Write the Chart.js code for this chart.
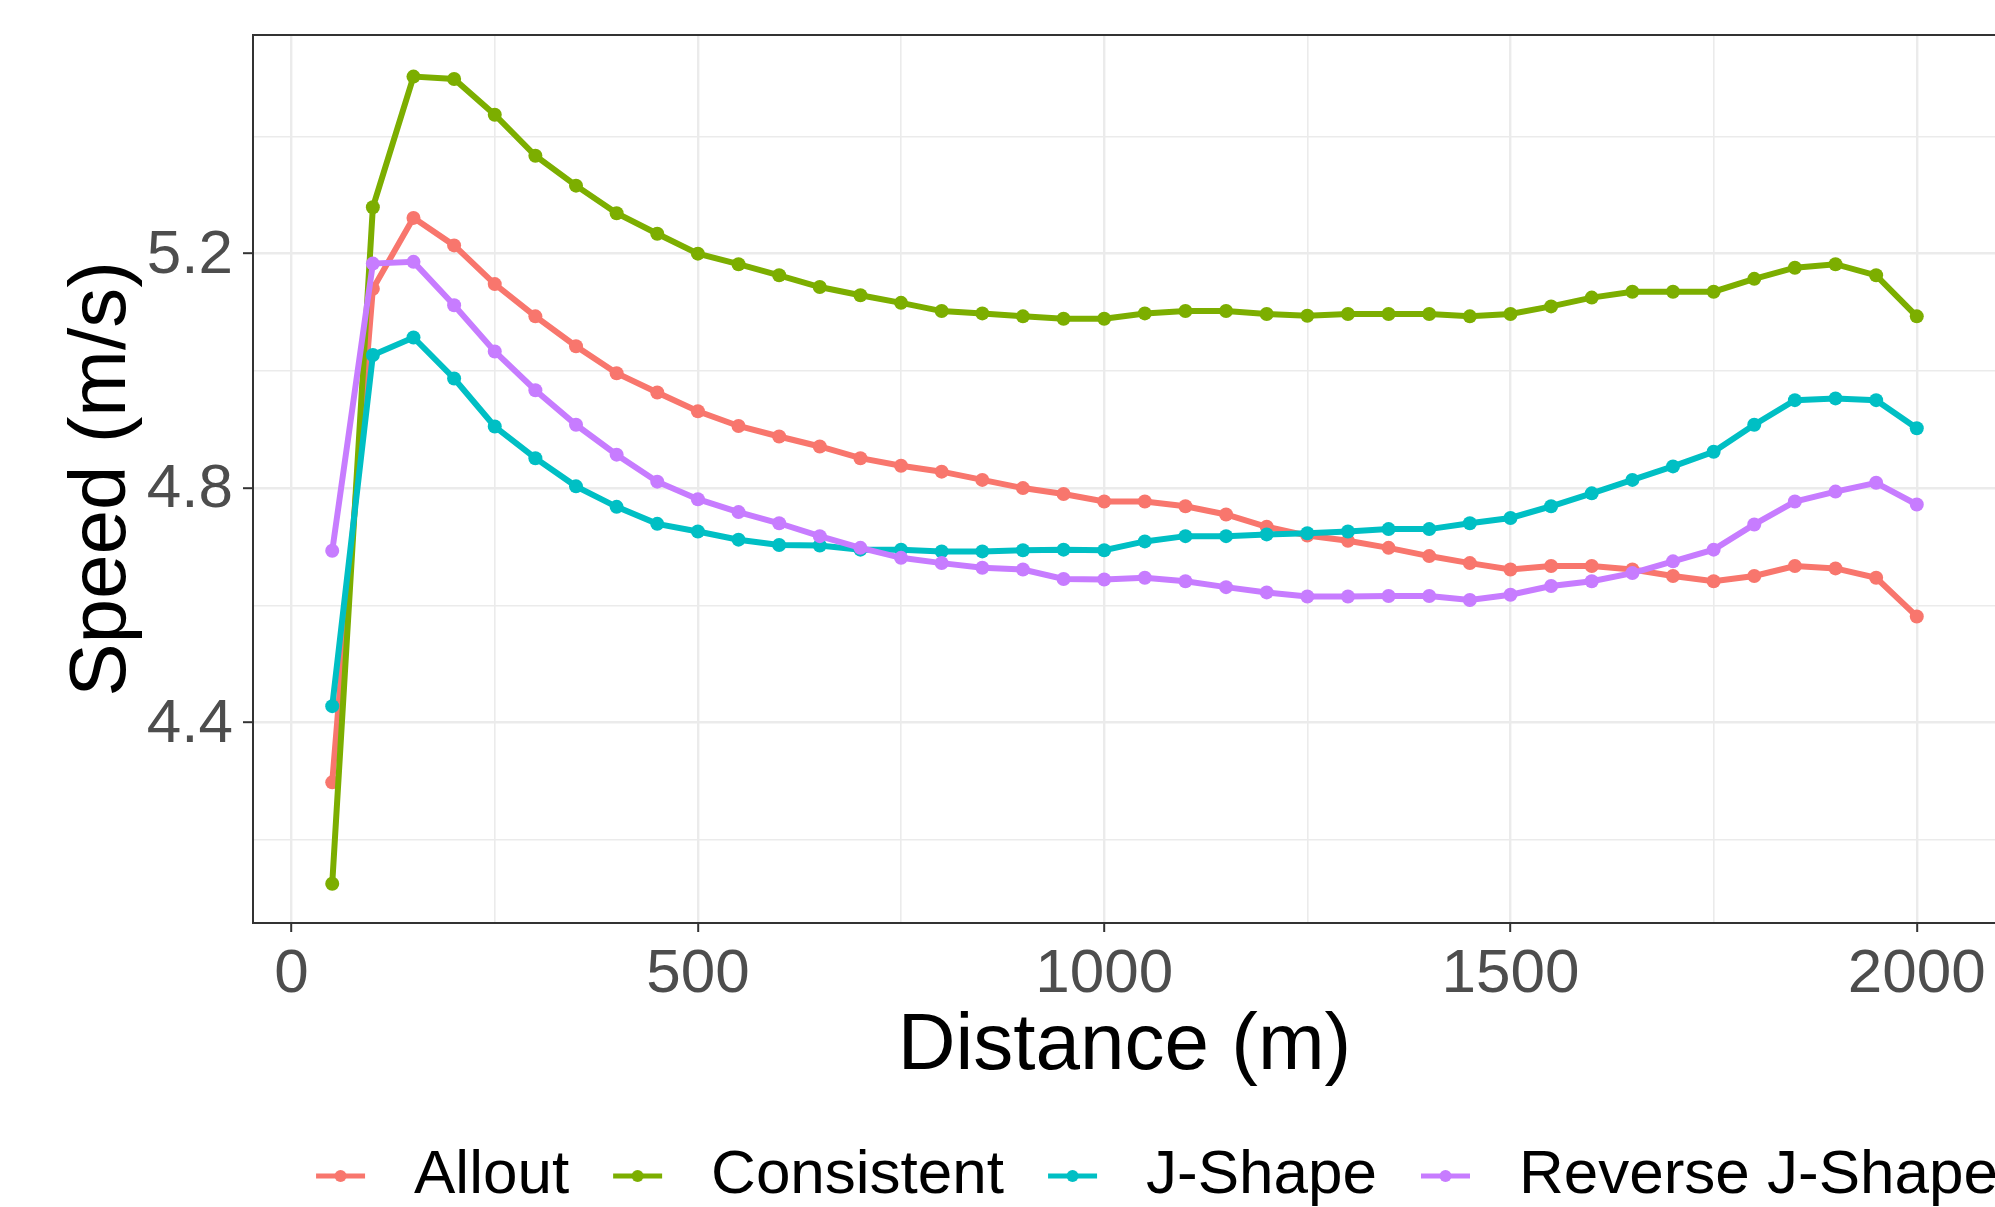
<!DOCTYPE html>
<html>
<head>
<meta charset="utf-8">
<title>Speed by distance</title>
<script src="https://cdn.jsdelivr.net/npm/chart.js@4.4.0/dist/chart.umd.min.js"></script>
<style>
html, body { margin: 0; padding: 0; overflow: hidden; background: #ffffff; }
#wrap { position: absolute; left: 0; top: 0; width: 2300px; height: 1217px; }
</style>
</head>
<body>
<div id="wrap"><canvas id="speedChart"></canvas></div>
<script>
// Distance in metres (every 50 m split)
const distances = [50, 100, 150, 200, 250, 300, 350, 400, 450, 500,
    550, 600, 650, 700, 750, 800, 850, 900, 950, 1000,
    1050, 1100, 1150, 1200, 1250, 1300, 1350, 1400, 1450, 1500,
    1550, 1600, 1650, 1700, 1750, 1800, 1850, 1900, 1950, 2000];

// Speed (m/s) per pacing strategy
const allout = [4.298, 5.140, 5.261, 5.214, 5.148, 5.093, 5.042, 4.996, 4.963, 4.931,
    4.906, 4.888, 4.871, 4.851, 4.838, 4.828, 4.814, 4.800, 4.790, 4.777,
    4.777, 4.769, 4.755, 4.734, 4.719, 4.710, 4.698, 4.684, 4.672, 4.661,
    4.667, 4.667, 4.661, 4.650, 4.641, 4.650, 4.667, 4.663, 4.647, 4.581];
const consistent = [4.125, 5.279, 5.502, 5.498, 5.437, 5.367, 5.316, 5.269, 5.234, 5.200,
    5.182, 5.163, 5.143, 5.129, 5.116, 5.102, 5.098, 5.093, 5.089, 5.089,
    5.098, 5.102, 5.102, 5.097, 5.094, 5.097, 5.097, 5.097, 5.093, 5.097,
    5.110, 5.125, 5.135, 5.135, 5.135, 5.157, 5.176, 5.182, 5.163, 5.093];
const jShape = [4.428, 5.027, 5.057, 4.987, 4.905, 4.851, 4.803, 4.768, 4.739, 4.726,
    4.712, 4.703, 4.702, 4.695, 4.695, 4.692, 4.692, 4.694, 4.695, 4.694,
    4.709, 4.718, 4.718, 4.721, 4.723, 4.726, 4.730, 4.730, 4.740, 4.749,
    4.769, 4.791, 4.814, 4.837, 4.862, 4.908, 4.950, 4.953, 4.950, 4.902];
const reverseJShape = [4.693, 5.183, 5.186, 5.112, 5.033, 4.967, 4.908, 4.857, 4.811, 4.781,
    4.759, 4.740, 4.718, 4.698, 4.681, 4.672, 4.664, 4.661, 4.645, 4.644,
    4.647, 4.641, 4.631, 4.622, 4.615, 4.615, 4.616, 4.616, 4.609, 4.618,
    4.633, 4.641, 4.655, 4.675, 4.695, 4.738, 4.777, 4.794, 4.809, 4.772];

const seriesNames = ['Allout', 'Consistent', 'J-Shape', 'Reverse J-Shape'];
const seriesValues = [allout, consistent, jShape, reverseJShape];
const seriesColors = ['#F8766D', '#7CAE00', '#00BFC4', '#C77CFF'];

// Axis ticks: major ones get a label, the others are minor grid lines
const xTicks = [0, 250, 500, 750, 1000, 1250, 1500, 1750, 2000];
const xLabels = [0, 500, 1000, 1500, 2000];
const yTicks = [4.2, 4.4, 4.6, 4.8, 5.0, 5.2, 5.4];
const yLabels = [4.4, 4.8, 5.2];

Chart.defaults.font.family = "'Liberation Sans', Arial, sans-serif";

function isLabel(list, v) {
    return list.some(l => Math.abs(l - v) < 1e-6);
}

// little line + dot, like the ggplot legend key (transparent margin on the left)
function legendKey(color) {
    const c = document.createElement('canvas');
    c.width = 81;
    c.height = 20;
    const g = c.getContext('2d');
    g.strokeStyle = color;
    g.lineWidth = 5;
    g.beginPath();
    g.moveTo(14, 10);
    g.lineTo(63, 10);
    g.stroke();
    g.fillStyle = color;
    g.beginPath();
    g.arc(38.5, 10, 6, 0, Math.PI * 2);
    g.fill();
    return c;
}

// dark frame round the panel
const panelBorder = {
    id: 'panelBorder',
    afterDatasetsDraw(chart) {
        const { ctx, chartArea: a } = chart;
        ctx.save();
        ctx.strokeStyle = '#333333';
        ctx.lineWidth = 2;
        ctx.strokeRect(a.left, a.top, a.right - a.left, a.bottom - a.top);
        ctx.restore();
    }
};

const datasets = seriesNames.map((name, i) => ({
    label: name,
    data: distances.map((d, j) => ({ x: d, y: seriesValues[i][j] })),
    borderColor: seriesColors[i],
    backgroundColor: seriesColors[i],
    pointBackgroundColor: seriesColors[i],
    borderWidth: 6,
    pointRadius: 7,
    pointHoverRadius: 7,
    pointBorderWidth: 0,
    tension: 0,
    fill: false,
    order: seriesNames.length - i
}));

const speedCanvas = document.getElementById('speedChart');
new Chart(speedCanvas, {
    type: 'line',
    data: { datasets: datasets },
    plugins: [panelBorder],
    options: {
        responsive: true,
        maintainAspectRatio: false,
        animation: false,
        layout: { padding: { left: 0, right: 0, top: 35, bottom: 0 } },
        plugins: {
            tooltip: { enabled: false },
            legend: {
                position: 'bottom',
                labels: {
                    usePointStyle: true,
                    pointStyleWidth: 81,
                    padding: 30,
                    color: '#000000',
                    font: { size: 62 },
                    generateLabels: chart => chart.data.datasets.map((ds, i) => ({
                        text: ds.label,
                        fillStyle: ds.borderColor,
                        strokeStyle: ds.borderColor,
                        lineWidth: 0,
                        pointStyle: legendKey(ds.borderColor),
                        hidden: false,
                        datasetIndex: i,
                        fontColor: '#000000'
                    }))
                }
            }
        },
        scales: {
            x: {
                type: 'linear',
                min: -47.5,
                max: 2097.5,
                afterBuildTicks: axis => { axis.ticks = xTicks.map(v => ({ value: v })); },
                afterFit: axis => {
                    axis.height = 192;
                    axis.paddingLeft = 0;
                    axis.paddingRight = 0;
                },
                ticks: {
                    autoSkip: false,
                    maxRotation: 0,
                    padding: 6,
                    color: '#4D4D4D',
                    font: { size: 62 },
                    callback: v => isLabel(xLabels, v) ? String(v) : ''
                },
                grid: {
                    color: '#EBEBEB',
                    lineWidth: ctx => isLabel(xLabels, ctx.tick ? ctx.tick.value : 1) ? 2.4 : 1.6,
                    tickLength: 9,
                    tickWidth: 2,
                    tickColor: ctx => isLabel(xLabels, ctx.tick ? ctx.tick.value : 1) ? '#333333' : 'rgba(0,0,0,0)'
                },
                border: { display: false },
                title: {
                    display: true,
                    text: 'Distance (m)',
                    color: '#000000',
                    font: { size: 80 },
                    padding: { top: 0, bottom: 20 }
                }
            },
            y: {
                type: 'linear',
                position: 'left',
                min: 4.058,
                max: 5.573,
                afterBuildTicks: axis => { axis.ticks = yTicks.map(v => ({ value: v })); },
                afterFit: axis => {
                    axis.width = 253;
                    axis.paddingTop = 0;
                    axis.paddingBottom = 0;
                },
                ticks: {
                    padding: 10,
                    labelOffset: 2,
                    color: '#4D4D4D',
                    font: { size: 62 },
                    callback: v => isLabel(yLabels, v) ? v.toFixed(1) : ''
                },
                grid: {
                    color: '#EBEBEB',
                    lineWidth: ctx => isLabel(yLabels, ctx.tick ? ctx.tick.value : 0) ? 2.4 : 1.6,
                    tickLength: 10,
                    tickWidth: 2,
                    tickColor: ctx => isLabel(yLabels, ctx.tick ? ctx.tick.value : 0) ? '#333333' : 'rgba(0,0,0,0)'
                },
                border: { display: false },
                title: {
                    display: true,
                    text: 'Speed (m/s)',
                    color: '#000000',
                    font: { size: 80 },
                    padding: { top: 55, bottom: 0 }
                }
            },
            // empty axis that pushes the panel edge out to x = 1996
            yRight: {
                type: 'linear',
                position: 'right',
                min: 0,
                max: 1,
                afterFit: axis => {
                    axis.width = 304;
                    axis.paddingTop = 0;
                    axis.paddingBottom = 0;
                },
                ticks: { display: false },
                grid: { display: false },
                border: { display: false }
            }
        }
    }
});
</script>
</body>
</html>
